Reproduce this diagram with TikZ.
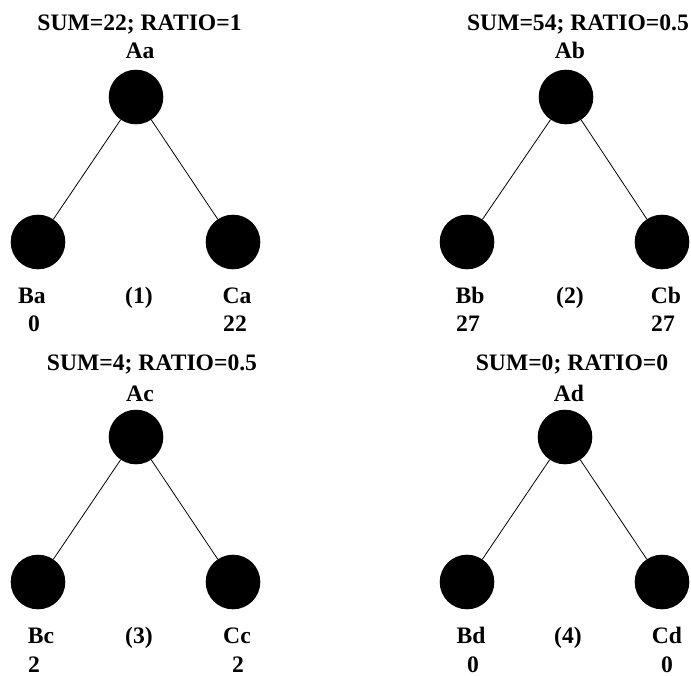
\documentclass[tikz,border=0pt]{standalone}
\usepackage{fontspec}
\setmainfont{Liberation Serif}
\begin{document}
\begin{tikzpicture}[x=1pt,y=-1pt,
  vertex/.style={circle,fill=black,draw=none,minimum size=54.6pt,inner sep=0pt},
  lbl/.style={anchor=base,font=\fontsize{23.6}{26}\selectfont\bfseries,inner sep=0pt},
  edge/.style={draw=black,line width=0.8pt}]
\useasboundingbox (0,0) rectangle (691,675);

% ---- tree (1) ----
\node[lbl] (t1) at (139.5,30.7) {SUM=22; RATIO=1};
\node[lbl] (la) at (140,58.3) {Aa};
\node[vertex] (Aa) at (136,97) {};
\node[vertex] (Ba) at (38,242) {};
\node[vertex] (Ca) at (233,242) {};
\node[lbl] (lba) at (32,303.5) {Ba};
\node[lbl] (n1) at (139,303.5) {(1)};
\node[lbl] (lca) at (237,303.5) {Ca};
\node[lbl] (vba) at (34,331.7) {0};
\node[lbl] (vca) at (235,331.7) {22};
\draw[edge] (Aa) -- (Ba);
\draw[edge] (Aa) -- (Ca);

% ---- tree (2) ----
\node[lbl] (t2) at (578,30.7) {SUM=54; RATIO=0.5};
\node[lbl] (lab) at (570,58.3) {Ab};
\node[vertex] (Ab) at (566,97) {};
\node[vertex] (Bb) at (467,242) {};
\node[vertex] (Cb) at (662,242) {};
\node[lbl] (lbb) at (470,303.5) {Bb};
\node[lbl] (n2) at (570,303.5) {(2)};
\node[lbl] (lcb) at (666,303.5) {Cb};
\node[lbl] (vbb) at (468,331.7) {27};
\node[lbl] (vcb) at (663,331.7) {27};
\draw[edge] (Ab) -- (Bb);
\draw[edge] (Ab) -- (Cb);

% ---- tree (3) ----
\node[lbl] (t3) at (152,370.7) {SUM=4; RATIO=0.5};
\node[lbl] (lac) at (140,401.7) {Ac};
\node[vertex] (Ac) at (136,437) {};
\node[vertex] (Bc) at (38,582) {};
\node[vertex] (Cc) at (233,582) {};
\node[lbl] (lbc) at (41,643.3) {Bc};
\node[lbl] (n3) at (139,643.3) {(3)};
\node[lbl] (lcc) at (237,643.3) {Cc};
\node[lbl] (vbc) at (34,672.5) {2};
\node[lbl] (vcc) at (238,672.5) {2};
\draw[edge] (Ac) -- (Bc);
\draw[edge] (Ac) -- (Cc);

% ---- tree (4) ----
\node[lbl] (t4) at (572,370.7) {SUM=0; RATIO=0};
\node[lbl] (lad) at (569,401.7) {Ad};
\node[vertex] (Ad) at (565,437) {};
\node[vertex] (Bd) at (467,582) {};
\node[vertex] (Cd) at (662,582) {};
\node[lbl] (lbd) at (471,643.3) {Bd};
\node[lbl] (n4) at (568,643.3) {(4)};
\node[lbl] (lcd) at (667,643.3) {Cd};
\node[lbl] (vbd) at (473,672.5) {0};
\node[lbl] (vcd) at (667,672.5) {0};
\draw[edge] (Ad) -- (Bd);
\draw[edge] (Ad) -- (Cd);
\end{tikzpicture}
\end{document}
